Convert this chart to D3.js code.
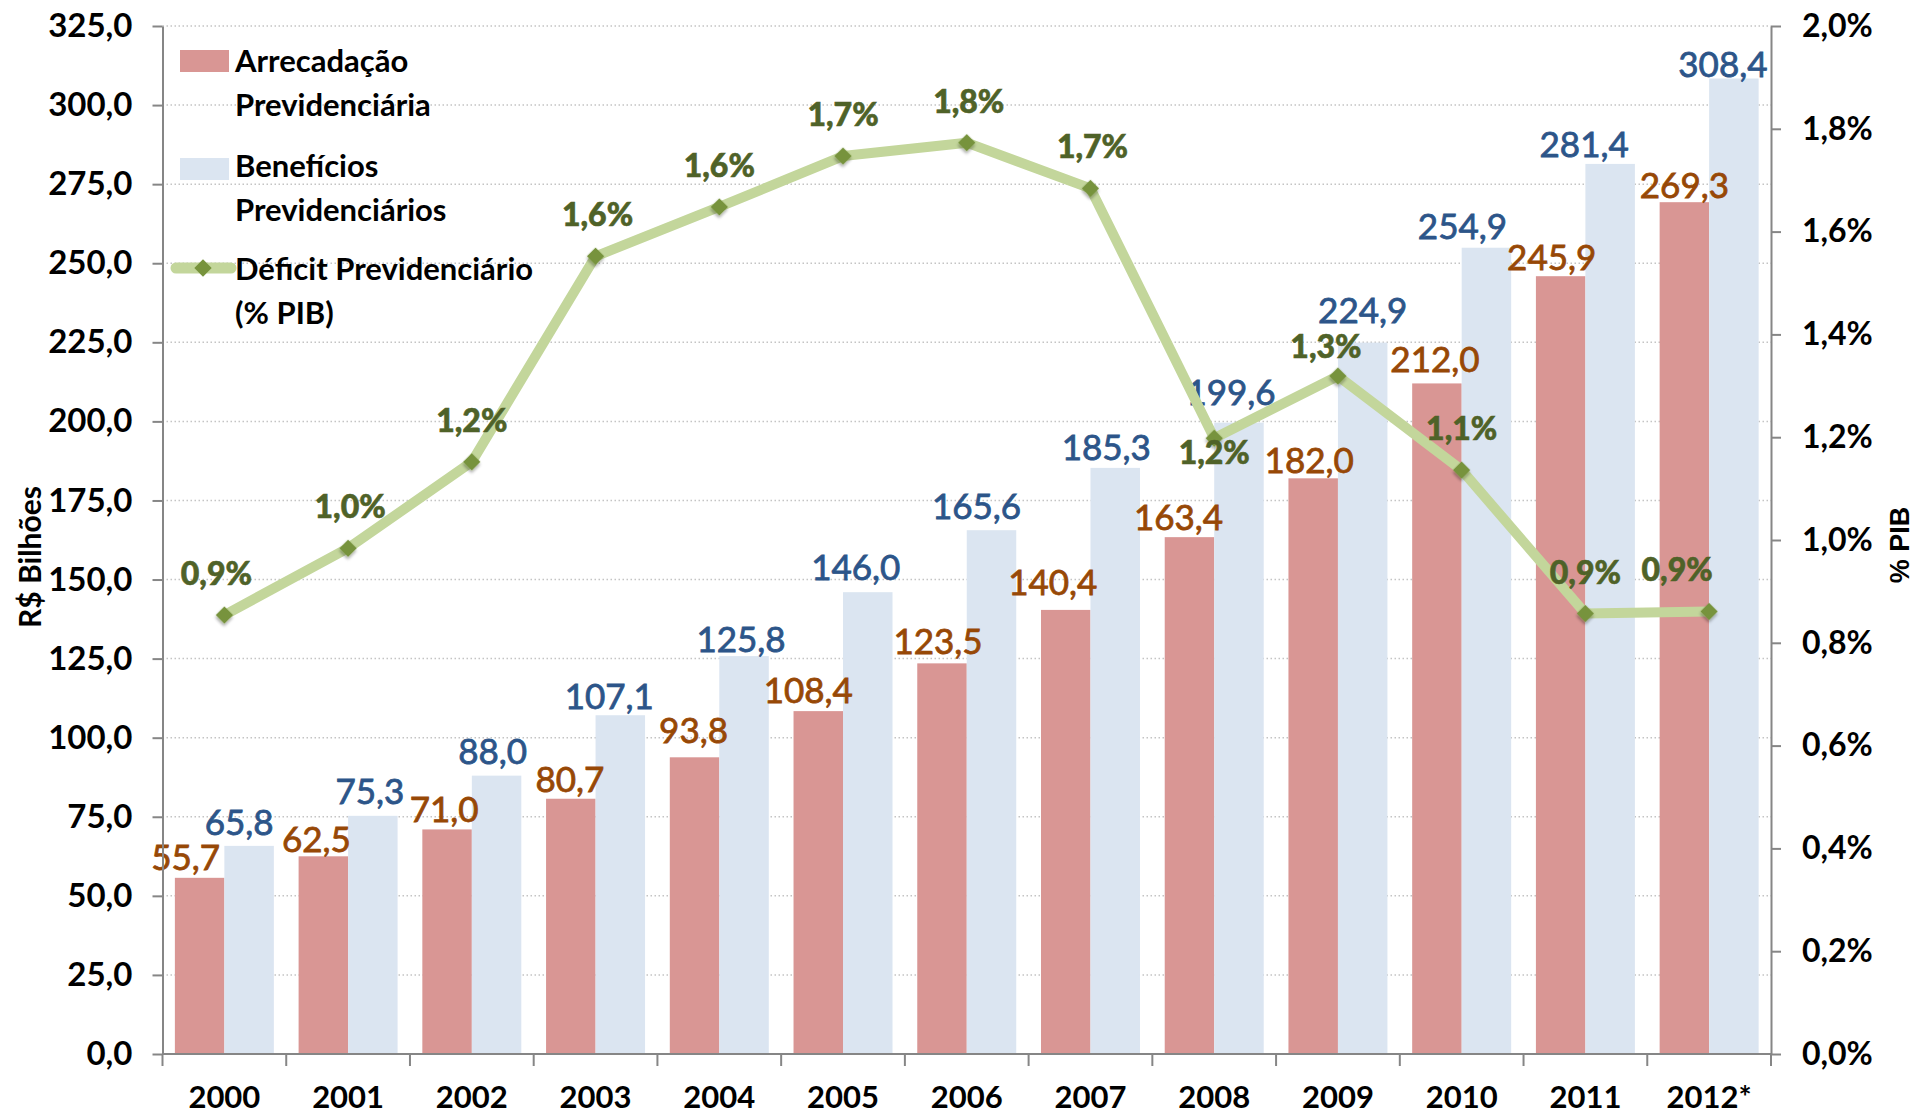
<!DOCTYPE html>
<html><head><meta charset="utf-8">
<script src="https://cdn.jsdelivr.net/npm/d3@7"></script>
<style>
html,body{margin:0;padding:0;background:#fff;}
svg{display:block;font-family:Lato,"Open Sans",sans-serif;}
</style></head><body>
<svg id="chart" width="1915" height="1115"></svg>
<script>
// ---------- data ----------
const years = ["2000","2001","2002","2003","2004","2005","2006","2007","2008","2009","2010","2011","2012*"];
const arrecadacao = [55.7,62.5,71.0,80.7,93.8,108.4,123.5,140.4,163.4,182.0,212.0,245.9,269.3];
const beneficios  = [65.8,75.3,88.0,107.1,125.8,146.0,165.6,185.3,199.6,224.9,254.9,281.4,308.4];
const deficitPct  = [0.854,0.984,1.152,1.552,1.648,1.747,1.773,1.684,1.198,1.319,1.136,0.857,0.861];
const leftTicks  = [0,25,50,75,100,125,150,175,200,225,250,275,300,325];
const rightTicks = [0,0.2,0.4,0.6,0.8,1.0,1.2,1.4,1.6,1.8,2.0];
const seriesNames = ["Arrecadação Previdenciária","Benefícios Previdenciários","Déficit Previdenciário (% PIB)"];

// label nudges (layout only)
const arrLabelDx = [-14,-7,-3,-1,-1,-10,-4,-13,-11,-4,-2,-9,0];
const arrLabelGap = [8,4,7,7,14,8,9,15,7,5,11,6,4];
const benLabelDx = [-10,-3,-4,-11,-3,-12,-15,-9,-8,0,-24,-26,-11];
const benLabelGap = [11,12,12,6,4,12,11,8,18,20,9,7,2];
const defLabelDx = [-8,2,0,2,0,0,2,2,0,-12,0,0,-32];
const defLabelDy = [-30,-30,-30,-30,-30,-30,-30,-30,26,-18,-30,-30,-30];

// ---------- setup ----------
const C = {pink:"#D99694", blue:"#DBE5F1", line:"#C3D69B", marker:"#77933C",
           pinkTxt:"#974806", blueTxt:"#2C5589", greenTxt:"#4F6228", axis:"#868686", grid:"#C4C4C4"};
const m = {left:162.5, right:1771, top:26, bottom:1054};
const svg = d3.select("#chart");
const loc = d3.formatLocale({decimal:",", thousands:".", grouping:[3], currency:["R$ ",""]});
const f1 = loc.format(".1f");

const x = d3.scaleBand().domain(years).range([m.left, m.right]);
const xs = d3.scaleBand().domain(["arr","ben"]).range([0, x.bandwidth()]).paddingOuter(0.25);
const yL = d3.scaleLinear().domain([0,325]).range([m.bottom, m.top]);
const yR = d3.scaleLinear().domain([0,2]).range([m.bottom, m.top]);

const defs = svg.append("defs");
const flt = defs.append("filter").attr("id","sh").attr("x","-50%").attr("y","-50%").attr("width","200%").attr("height","200%");
flt.append("feDropShadow").attr("dx",1.5).attr("dy",2).attr("stdDeviation",1.5).attr("flood-color","#000").attr("flood-opacity",0.35);

// gridlines
svg.append("g").selectAll("line").data(leftTicks.filter(d => d > 0)).join("line")
  .attr("x1", m.left).attr("x2", m.right)
  .attr("y1", d => yL(d)).attr("y2", d => yL(d))
  .attr("stroke", C.grid).attr("stroke-width", 1.5).attr("stroke-dasharray", "1.5,2.5");

// bars
const gBars = svg.append("g");
gBars.selectAll("rect.arr").data(arrecadacao).join("rect").attr("class","arr")
  .attr("x", (d,i) => x(years[i]) + xs("arr")).attr("width", xs.bandwidth())
  .attr("y", d => yL(d)).attr("height", d => yL(0) - yL(d)).attr("fill", C.pink);
gBars.selectAll("rect.ben").data(beneficios).join("rect").attr("class","ben")
  .attr("x", (d,i) => x(years[i]) + xs("ben")).attr("width", xs.bandwidth())
  .attr("y", d => yL(d)).attr("height", d => yL(0) - yL(d)).attr("fill", C.blue);

// bar labels
const gBL = svg.append("g").attr("font-size", 35).attr("text-anchor","middle").attr("stroke-width", 0.8);
gBL.selectAll("text.arr").data(arrecadacao).join("text").attr("class","arr")
  .attr("x", (d,i) => x(years[i]) + xs("arr") + xs.bandwidth()/2 + arrLabelDx[i])
  .attr("y", (d,i) => yL(d) - arrLabelGap[i])
  .attr("fill", C.pinkTxt).attr("stroke", C.pinkTxt).text(d => f1(d));
gBL.selectAll("text.ben").data(beneficios).join("text").attr("class","ben")
  .attr("x", (d,i) => x(years[i]) + xs("ben") + xs.bandwidth()/2 + benLabelDx[i])
  .attr("y", (d,i) => yL(d) - benLabelGap[i])
  .attr("fill", C.blueTxt).attr("stroke", C.blueTxt).text(d => f1(d));

// line
const cx = (d,i) => x(years[i]) + x.bandwidth()/2;
const line = d3.line().x((d,i) => cx(d,i)).y(d => yR(d));
svg.append("path").datum(deficitPct).attr("d", line)
  .attr("fill","none").attr("stroke", C.line).attr("stroke-width", 10).attr("stroke-linejoin","round");
const sq = d3.symbol().type(d3.symbolSquare).size(150);
svg.append("g").selectAll("path").data(deficitPct).join("path")
  .attr("d", sq).attr("fill", C.marker).attr("filter","url(#sh)")
  .attr("transform", (d,i) => `translate(${cx(d,i)},${yR(d)}) rotate(45)`);
svg.append("g").attr("font-size", 32).attr("font-weight", 900).attr("text-anchor","middle")
  .selectAll("text").data(deficitPct).join("text")
  .attr("x", (d,i) => cx(d,i) + defLabelDx[i])
  .attr("y", (d,i) => yR(d) + defLabelDy[i])
  .attr("fill", C.greenTxt).attr("stroke", C.greenTxt).attr("stroke-width", 0.6)
  .text(d => f1(d) + "%");

// axes
function styleAxis(g, size) {
  g.selectAll(".domain").attr("stroke", C.axis).attr("stroke-width", 2);
  g.selectAll(".tick line").attr("stroke", C.axis).attr("stroke-width", 2);
  g.selectAll("text").attr("fill","#000").attr("font-size", size).attr("font-weight", 700)
    .attr("font-family", "Lato, 'Open Sans', sans-serif");
}
const gL = svg.append("g").attr("transform", `translate(${m.left},0)`)
  .call(d3.axisLeft(yL).tickValues(leftTicks).tickFormat(f1).tickSize(10).tickSizeOuter(0).tickPadding(20));
styleAxis(gL, 33);
const gR = svg.append("g").attr("transform", `translate(${m.right},0)`)
  .call(d3.axisRight(yR).tickValues(rightTicks).tickFormat(d => f1(d) + "%").tickSize(10).tickSizeOuter(0).tickPadding(21));
styleAxis(gR, 32);
const gX = svg.append("g").attr("transform", `translate(0,${m.bottom})`)
  .call(d3.axisBottom(x).tickSize(0).tickSizeOuter(0).tickPadding(32));
styleAxis(gX, 31);
gX.selectAll(".domain").attr("d", `M${m.left},0H${m.right}`);
gX.selectAll("g.bound").data([...years.map(d => x(d)), x.range()[1]]).join("line")
  .attr("x1", d => d).attr("x2", d => d).attr("y1", 0).attr("y2", 12)
  .attr("stroke", C.axis).attr("stroke-width", 2);

// axis titles
svg.append("text").attr("transform","translate(29,557) rotate(-90)")
  .attr("text-anchor","middle").attr("dominant-baseline","central")
  .attr("font-size", 30).attr("font-weight", 700).text("R$ Bilhões");
svg.append("text").attr("transform","translate(1900,545) rotate(-90)")
  .attr("text-anchor","middle").attr("dominant-baseline","central")
  .attr("font-size", 27).attr("font-weight", 700).attr("font-family","'Liberation Sans', Arial, sans-serif").text("% PIB");

// legend
const lg = svg.append("g").attr("font-size", 31).attr("font-weight", 700).attr("fill","#000");
lg.append("rect").attr("x",180).attr("y",50).attr("width",49).attr("height",22).attr("fill",C.pink);
lg.append("rect").attr("x",180).attr("y",158).attr("width",49).attr("height",22).attr("fill",C.blue);
lg.append("line").attr("x1",176).attr("x2",231).attr("y1",268).attr("y2",268)
  .attr("stroke",C.line).attr("stroke-width",11).attr("stroke-linecap","round");
lg.append("path").attr("d", sq).attr("fill", C.marker).attr("transform","translate(203,268) rotate(45)");
const legText = [
  ["Arrecadação","Previdenciária", 72],
  ["Benefícios","Previdenciários", 177],
  ["Déficit Previdenciário","(% PIB)", 280]
];
legText.forEach(t => {
  const tx = lg.append("text").attr("x",235).attr("y",t[2]);
  tx.append("tspan").attr("x",235).text(t[0]);
  tx.append("tspan").attr("x",235).attr("dy",44).text(t[1]);
});
</script>
</body></html>
